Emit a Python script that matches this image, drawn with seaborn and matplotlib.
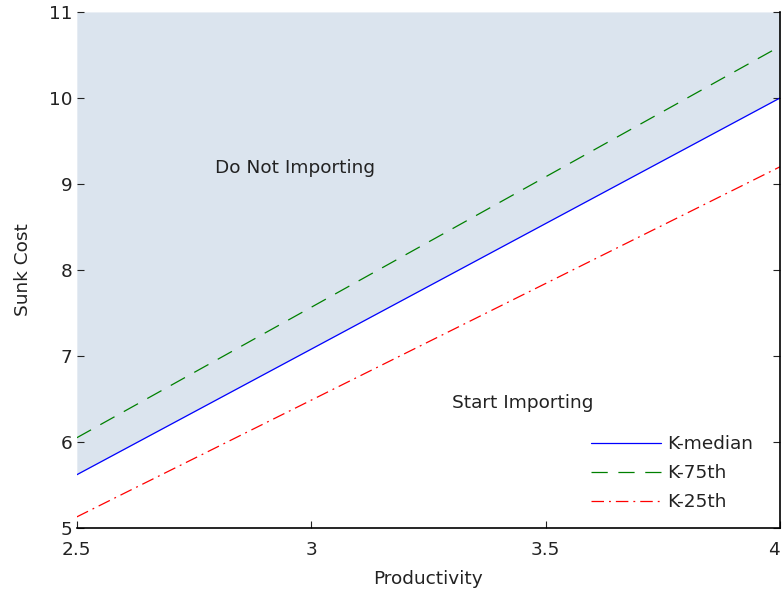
import pandas as pd
import seaborn as sns
import matplotlib.pyplot as plt

productivity = [2.5, 4.0]
k_median = [5.62, 10.0]
k_75th = [6.05, 10.6]
k_25th = [5.13, 9.2]

df = pd.DataFrame({'Productivity': productivity * 3,
                   'Sunk Cost': k_median + k_75th + k_25th,
                   'series': ['K-median'] * 2 + ['K-75th'] * 2 + ['K-25th'] * 2})

sns.set_style('white')
plt.rcParams['font.family'] = ['DejaVu Sans']
fs = 13.3

fig = plt.figure(figsize=(7.84, 5.96), dpi=100)
ax = fig.add_axes([0.098, 0.114, 0.897, 0.866])

ax.fill_between(productivity, k_median, 11, color='#dbe4ee', lw=0, zorder=0)

sns.lineplot(data=df, x='Productivity', y='Sunk Cost', hue='series', style='series',
             palette={'K-median': '#0000ff', 'K-75th': '#008000', 'K-25th': '#ff0000'},
             dashes={'K-median': '', 'K-75th': (13, 8.5), 'K-25th': (10, 4, 1.5, 4)},
             linewidth=0.9, ax=ax)

ax.set_xlim(2.5, 4)
ax.set_ylim(5, 11)
ax.set_xticks([2.5, 3, 3.5, 4])
ax.set_xticklabels(['2.5', '3', '3.5', '4'])
ax.get_xticklabels()[-1].set_ha('right')
ax.set_yticks(range(5, 12))
ax.tick_params(direction='in', length=5, labelsize=fs, colors='#222222',
               right=True, left=True, bottom=True, top=False)
ax.tick_params(axis='y', pad=3)
ax.tick_params(axis='x', pad=9)

for s in ['top', 'left']:
    ax.spines[s].set_visible(False)
for s in ['right', 'bottom']:
    ax.spines[s].set_color('black')
    ax.spines[s].set_linewidth(1.2)

ax.set_xlabel('Productivity', fontsize=fs, color='#222222', labelpad=8)
ax.set_ylabel('Sunk Cost', fontsize=fs, color='#222222', labelpad=12)

ax.text(2.965, 9.19, 'Do Not Importing', ha='center', va='center', fontsize=fs, color='#222222')
ax.text(3.45, 6.45, 'Start Importing', ha='center', va='center', fontsize=fs, color='#222222')

leg = ax.legend(loc='lower right', frameon=False, fontsize=fs, handlelength=3.8,
                handletextpad=0.3, bbox_to_anchor=(0.985, 0.0), labelspacing=0.6)
for t in leg.get_texts():
    t.set_color('#222222')

fig.savefig('out.png', dpi=100)
